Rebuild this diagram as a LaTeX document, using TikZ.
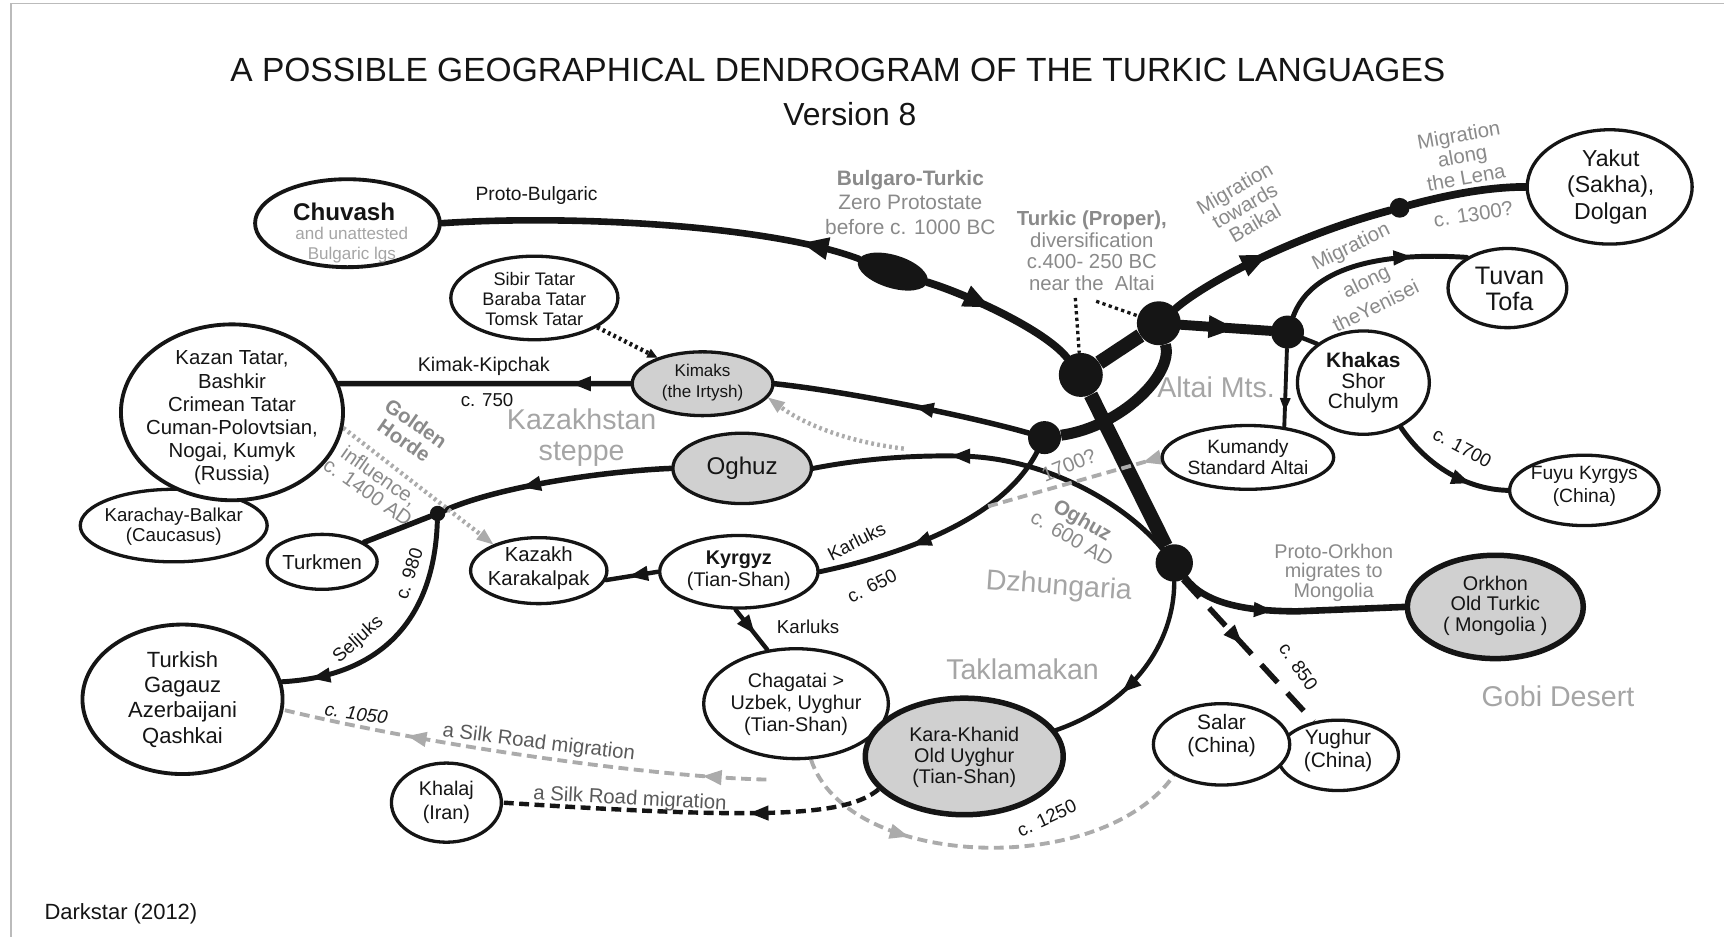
\documentclass[tikz,border=0pt]{standalone}
\usepackage{fontspec}
\setmainfont{Liberation Sans}
\usetikzlibrary{shapes.geometric,arrows.meta,decorations.markings}

\definecolor{ink}{HTML}{151515}
\definecolor{fillgray}{HTML}{D0D0D0}
\definecolor{labgray}{HTML}{8A8A8A}
\definecolor{darkgray}{HTML}{5A5A5A}
\definecolor{regiongray}{HTML}{A5A5A5}
\definecolor{dashgray}{HTML}{ABABAB}
\definecolor{framegray}{HTML}{BBBBBB}

\newcommand{\fsz}[2]{\fontsize{#1}{#2}\selectfont}

\pgfdeclarelayer{bg}
\pgfsetlayers{bg,main}

\tikzset{
  lang/.style={ellipse, draw=ink, line width=3pt, fill=white, inner sep=0pt},
  greylang/.style={lang, fill=fillgray},
  txt/.style={align=center, inner sep=0pt, text=ink, font=\fsz{18}{20.5}},
  hub/.style={circle, fill=ink, inner sep=0pt},
  lab/.style={align=center, inner sep=0pt, text=ink, font=\fsz{17}{19}},
  glab/.style={align=center, inner sep=0pt, text=labgray, font=\fsz{18.5}{19.5}},
  region/.style={align=center, inner sep=0pt, text=regiongray, font=\fsz{26}{28}},
  branch/.style={draw=ink, line cap=round},
  bigtri/.tip={Triangle[length=24pt,width=21pt,line width=0pt]},
  medtri/.tip={Triangle[length=17pt,width=14pt,line width=0pt]},
  smalltri/.tip={Triangle[length=12pt,width=10pt,line width=0pt]},
  bigmid/.style={postaction={decorate}, decoration={markings,
      mark=at position #1 with {\pgfsetdash{}{0pt}\arrow{bigtri}}}},
  amid/.style={postaction={decorate}, decoration={markings,
      mark=at position #1 with {\pgfsetdash{}{0pt}\arrow{medtri}}}},
  smallmid/.style={postaction={decorate}, decoration={markings,
      mark=at position #1 with {\pgfsetdash{}{0pt}\arrow{smalltri}}}},
  graydash/.style={draw=dashgray, color=dashgray, line width=3.5pt, dash pattern=on 9pt off 5pt},
  graydot/.style={draw=dashgray, color=dashgray, line width=4pt, dash pattern=on 2.5pt off 3pt},
  inkdot/.style={draw=ink, line width=4pt, dash pattern=on 2.5pt off 3pt},
}

\begin{document}
\begin{tikzpicture}[x=1pt,y=-1pt]
\useasboundingbox (0,0) rectangle (1568,852);

% ---------- title ----------
\node[font=\fsz{30.5}{34}, text=ink, inner sep=0pt] (title) at (762,64)
  {A POSSIBLE GEOGRAPHICAL DENDROGRAM OF THE TURKIC LANGUAGES};
\node[font=\fsz{29}{32}, text=ink, inner sep=0pt] (version) at (773,104) {Version 8};

% ---------- language groups ----------
\node[lang, minimum width=168pt, minimum height=80pt, line width=3.5pt] (chuvash) at (316,203) {};
\node[lang, minimum width=152pt, minimum height=76pt] (sibir) at (486,271) {};
\node[lang, minimum width=170pt, minimum height=66pt] (karachay) at (158,478) {};
\node[lang, minimum width=202pt, minimum height=160pt, line width=3.5pt] (kazan) at (211,375) {};
\node[greylang, minimum width=128pt, minimum height=58pt] (kimaks) at (639,349) {};
\node[greylang, minimum width=126pt, minimum height=64pt] (oghuz) at (675,426) {};
\node[lang, minimum width=100pt, minimum height=50pt] (turkmen) at (293,511) {};
\node[lang, minimum width=124pt, minimum height=60pt] (kazakh) at (490,519) {};
\node[lang, minimum width=144pt, minimum height=66pt] (kyrgyz) at (672,520) {};
\node[lang, minimum width=182pt, minimum height=136pt, line width=3.5pt] (turkish) at (166,636) {};
\node[lang, minimum width=100pt, minimum height=72pt] (khalaj) at (406,730) {};
\node[lang, minimum width=168pt, minimum height=100pt] (chagatai) at (724,640) {};
\node[greylang, minimum width=180pt, minimum height=106pt, line width=5pt] (karakhanid) at (877,688) {};
\node[lang, minimum width=110pt, minimum height=64pt] (yughur) at (1217,687) {};
\node[lang, minimum width=124pt, minimum height=74pt] (salar) at (1111,677) {};
\node[greylang, minimum width=160pt, minimum height=94pt, line width=5pt] (orkhon) at (1360,552) {};
\node[lang, minimum width=136pt, minimum height=64pt] (fuyu) at (1441,446) {};
\node[lang, minimum width=156pt, minimum height=58pt] (kumandy) at (1135,416) {};
\node[lang, minimum width=120pt, minimum height=94pt] (khakas) at (1240,348) {};
\node[lang, minimum width=108pt, minimum height=72pt] (tuvan) at (1371,262) {};
\node[lang, minimum width=150pt, minimum height=104pt] (yakut) at (1464,170) {};

% ---------- texts of the groups ----------
\node[txt, font=\bfseries\fsz{22}{24}] (t-chuvash) at (313,193) {Chuvash};
\node[txt, font=\fsz{15.5}{18}, text=regiongray] (t-chuvash2) at (320,223) {and unattested\\Bulgaric lgs};
\node[txt, font=\fsz{16.5}{18.5}] (t-sibir) at (486,272) {Sibir Tatar\\Baraba Tatar\\Tomsk Tatar};
\node[txt, font=\fsz{18.5}{21}] (t-kazan) at (211,380) {Kazan Tatar,\\Bashkir\\Crimean Tatar\\Cuman-Polovtsian,\\Nogai, Kumyk\\(Russia)};
\node[txt, font=\fsz{17}{19}] (t-karachay) at (158,479) {Karachay-Balkar\\(Caucasus)};
\node[txt, font=\fsz{15.5}{19}] (t-kimaks) at (639,348) {Kimaks\\(the Irtysh)};
\node[txt, font=\fsz{22}{24}] (t-oghuz) at (675,426) {Oghuz};
\node[txt, font=\fsz{18.5}{21}] (t-turkmen) at (293,511) {Turkmen};
\node[txt, font=\fsz{18.5}{22}] (t-kazakh) at (490,517) {Kazakh\\Karakalpak};
\node[txt, font=\fsz{18}{20}] (t-kyrgyz) at (672,519) {\textbf{Kyrgyz}\\(Tian-Shan)};
\node[txt, font=\fsz{20}{23}] (t-turkish) at (166,636) {Turkish\\Gagauz\\Azerbaijani\\Qashkai};
\node[txt, font=\fsz{18}{22}] (t-khalaj) at (406,730) {Khalaj\\(Iran)};
\node[txt, font=\fsz{18}{20}] (t-chagatai) at (724,641) {Chagatai >\\Uzbek, Uyghur\\(Tian-Shan)};
\node[txt, font=\fsz{18}{19}] (t-karakhanid) at (877,689) {Kara-Khanid\\Old Uyghur\\(Tian-Shan)};
\node[txt, font=\fsz{19}{21}] (t-yughur) at (1217,683) {Yughur\\(China)};
\node[txt, font=\fsz{19}{21}] (t-salar) at (1111,669) {Salar\\(China)};
\node[txt, font=\fsz{18}{18.5}] (t-orkhon) at (1360,551) {Orkhon\\Old Turkic\\( Mongolia )};
\node[txt, font=\fsz{17.5}{21}] (t-fuyu) at (1441,442) {Fuyu Kyrgys\\(China)};
\node[txt, font=\fsz{17.5}{19}] (t-kumandy) at (1135,416) {Kumandy\\Standard Altai};
\node[txt, font=\fsz{19}{19}] (t-khakas) at (1240,348) {\textbf{Khakas}\\Shor\\Chulym};
\node[txt, font=\fsz{23}{24}] (t-tuvan) at (1373,263) {Tuvan\\Tofa};
\node[txt, font=\fsz{21}{24}] (t-yakut) at (1465,170) {Yakut\\(Sakha),\\Dolgan};

% ---------- branching points ----------
\node[ellipse, fill=ink, minimum width=66pt, minimum height=30pt, inner sep=0pt, rotate=-17] (bulg) at (812,247) {};
\node[hub, minimum size=40pt] (h1) at (983,341) {};
\node[hub, minimum size=40pt] (h2) at (1054,294) {};
\node[hub, minimum size=30pt] (h3) at (1171,302) {};
\node[hub, minimum size=30pt] (h4) at (950,398) {};
\node[hub, minimum size=34pt] (h5) at (1068,512) {};
\node[hub, minimum size=18pt] (ydot) at (1273,189) {};
\node[hub, minimum size=14pt] (tdot) at (398,467) {};

\coordinate (silkstart) at (697,709);
\coordinate (kumend) at (897,461);
\coordinate (ghost) at (822,408);
\coordinate (leadA) at (978,271);
\coordinate (leadB) at (997,274);

% ---------- labels ----------
\node[lab, font=\fsz{17.5}{19}] (l-pb) at (488,178) {Proto-Bulgaric};
\node[glab, font=\fsz{19}{22.5}] (l-bt) at (828,184) {\textbf{Bulgaro-Turkic}\\Zero Protostate\\before c. 1000 BC};
\node[glab, font=\fsz{18.5}{19.7}] (l-tp) at (993,228) {\textbf{Turkic (Proper),}\\diversification\\c.400- 250 BC\\near the\ \ Altai};
\node[lab, font=\fsz{18}{20}] (l-kk) at (440,333) {Kimak-Kipchak};
\node[lab] (l-750) at (443,364) {c. 750};
\node[region] (r-kaz) at (529,398) {Kazakhstan\\steppe};
\node[glab, rotate=-35, font=\fsz{18.5}{19}] (l-gh) at (373,393) {\textbf{Golden}\\\textbf{Horde}};
\node[glab, rotate=-35, font=\fsz{18.5}{18}] (l-infl) at (340,440) {influence,\\c. 1400 AD};
\node[glab, rotate=-30] (l-og) at (980,481) {\textbf{Oghuz}\\c. 600 AD};
\node[glab, rotate=22] (l-1700q) at (972,423) {1700?};
\node[lab, rotate=27] (l-karl1) at (779,492) {Karluks};
\node[lab, rotate=27] (l-650) at (793,533) {c. 650};
\node[lab] (l-karl2) at (735,570) {Karluks};
\node[region, rotate=-4] (r-dzh) at (963,534) {Dzhungaria};
\node[region] (r-tak) at (930,609) {Taklamakan};
\node[region] (r-gobi) at (1417,633) {Gobi Desert};
\node[region] (r-altai) at (1106,352) {Altai Mts.};
\node[glab, font=\fsz{18}{17.5}] (l-po) at (1213,521) {Proto-Orkhon\\migrates to\\Mongolia};
\node[lab, rotate=-55] (l-850) at (1181,606) {c. 850};
\node[lab, rotate=25] (l-1250) at (952,744) {c. 1250};
\node[lab, rotate=-8, font=\itshape\fsz{17}{19}] (l-1050) at (324,649) {c. 1050};
\node[glab, rotate=-7, text=darkgray] (l-silk1) at (490,676) {a Silk Road migration};
\node[glab, rotate=-3, text=darkgray] (l-silk2) at (573,727) {a Silk Road migration};
\node[lab, rotate=42] (l-selj) at (326,582) {Seljuks};
\node[lab, rotate=72] (l-980) at (372,522) {c. 980};
\node[lab, rotate=-28] (l-1700) at (1330,407) {c. 1700};
\node[glab, rotate=30, font=\fsz{18.5}{18.5}] (l-baikal) at (1132,187) {Migration\\towards\\Baikal};
\node[glab, rotate=10] (l-lena) at (1330,142) {Migration\\along\\the Lena};
\node[glab, rotate=9] (l-1300) at (1340,195) {c. 1300?};
\node[glab, rotate=26] (l-yen1) at (1229,225) {Migration};
\node[glab, rotate=26] (l-yen2) at (1243,257) {along};
\node[glab, rotate=26] (l-yen3) at (1251,278) {theYenisei};
\node[lab, font=\fsz{20}{22}] (l-dark) at (110,831) {Darkstar (2012)};

% ---------- connectors ----------
\begin{pgfonlayer}{bg}
\fill[white] (0,0) rectangle (1568,852);
\draw[framegray, line width=1.2pt] (10,852) -- (10,3) -- (1568,3);

% Bulgaric and Common Turkic split
\draw[branch, line width=6pt, bigmid=.14] (bulg) .. controls (700,205) and (520,195) .. (chuvash.east);
\draw[branch, line width=7pt, bigmid=.42] (bulg) .. controls (880,268) and (950,300) .. (h1);

% central knot
\draw[ink, line width=13pt] (h1) -- (h2);
\draw[ink, line width=13pt] (h1) -- (h5);
\draw[ink, line width=10pt] (h2) .. controls (1068,340) and (1020,388) .. (h4);

% Siberian side
\draw[branch, line width=9pt, bigmid=.6] (h2) -- (h3);
\draw[branch, line width=7pt, bigmid=.45] (h2) .. controls (1095,258) and (1175,215) .. (ydot);
\draw[branch, line width=7pt] (ydot) .. controls (1310,179) and (1350,170) .. (yakut.west);
\draw[branch, line width=4.5pt, amid=.72] (h3) .. controls (1190,250) and (1240,228) .. (tuvan.143);
\draw[branch, line width=4pt] (h3) -- (khakas.140);
\draw[branch, line width=3.5pt, smallmid=.8] (h3) -- (kumandy.40);
\draw[branch, line width=4.5pt, amid=.7] (khakas.-50) .. controls (1295,420) and (1330,445) .. (fuyu.west);

% Kipchak side
\draw[branch, line width=5pt, amid=.45] (h4) .. controls (880,378) and (770,356) .. (kimaks.east);
\draw[branch, line width=5pt, amid=.2] (kimaks.west) -- (kazan.15);
\draw[branch, line width=4.5pt, amid=.62] (h4) .. controls (915,465) and (840,500) .. (kyrgyz.east);

% Oghuz side
\draw[branch, line width=4.5pt, amid=.63] (h5) .. controls (1020,455) and (950,418) .. (880,415)
      .. controls (820,413) and (770,420) .. (oghuz.east);
\draw[branch, line width=5pt, amid=.65] (oghuz.west) .. controls (560,428) and (460,440) .. (tdot);
\draw[branch, line width=5pt] (tdot) -- (turkmen.25);
\draw[branch, line width=4.5pt, amid=.88] (tdot) .. controls (395,560) and (350,615) .. (turkish.10);

% Karluk side
\draw[branch, line width=4pt, amid=.55] (kyrgyz.west) -- (kazakh.-8);
\draw[branch, line width=4pt, amid=.6] (kyrgyz.-95) -- (chagatai.118);

% eastern branches
\draw[branch, line width=4pt, amid=.62] (h5) .. controls (1068,585) and (1030,640) .. (karakhanid.16);
\draw[branch, line width=6pt, amid=.42] (h5) .. controls (1095,548) and (1130,556) .. (1180,556) -- (orkhon.west);
\draw[ink, line width=5pt, dash pattern=on 22pt off 13pt, amid=.45] (h5.-62) -- (yughur.126);

% migrations
\draw[graydash, amid=.31] (chagatai.-75) .. controls (770,790) and (1000,800) .. (salar.-147);
\draw[graydash, postaction={decorate}, decoration={markings,
      mark=at position .13 with {\pgfsetdash{}{0pt}\arrow{medtri}},
      mark=at position .74 with {\pgfsetdash{}{0pt}\arrow{medtri}}}]
      (silkstart) .. controls (600,707) and (400,680) .. (turkish.-6);
\draw[graydash, amid=.1] (kumandy.west) -- (kumend);
\draw[ink, line width=4pt, dash pattern=on 9pt off 5pt, amid=.35] (karakhanid.-159) .. controls (770,742) and (700,746) .. (khalaj.east);
\draw[graydot, -{Triangle[length=15pt,width=12pt,line width=0pt]}] (kazan.-8) -- (kazakh.150);
\draw[graydot, -{Triangle[length=15pt,width=12pt,line width=0pt]}] (ghost) .. controls (770,402) and (730,385) .. (kimaks.-12);
\draw[inkdot, -{Triangle[length=9pt,width=9pt,line width=0pt]}] (sibir.-25) -- (kimaks.150);
\draw[ink, line width=3pt, dash pattern=on 3pt off 3pt] (leadA) -- (h1);
\draw[ink, line width=3pt, dash pattern=on 3pt off 3pt] (leadB) -- (h2);
\end{pgfonlayer}
\end{tikzpicture}
\end{document}
